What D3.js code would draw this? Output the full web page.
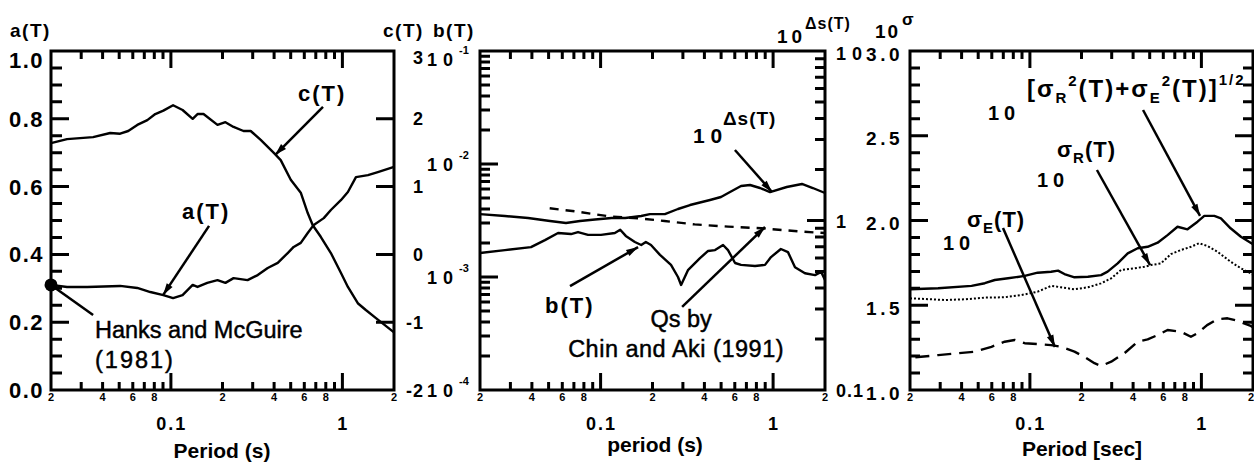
<!DOCTYPE html>
<html>
<head>
<meta charset="utf-8">
<script src="https://cdn.jsdelivr.net/npm/d3@7"></script>
<style>
  body { margin: 0; background: #fff; }
  svg text { font-family: "Liberation Sans", Arial, Helvetica, sans-serif; fill: #000; }
</style>
</head>
<body>
<svg id="chart" width="1254" height="466"></svg>
<script>
// ---------- data ----------
// panel 1 : a(T) left axis, c(T) right axis
var periodA = [0.02, 0.0248, 0.0325, 0.0506, 0.0637, 0.0759, 0.0904, 0.103, 0.117, 0.134, 0.143, 0.163, 0.187, 0.208, 0.232, 0.280, 0.321, 0.367, 0.420, 0.480, 0.520, 0.572, 0.628, 0.681, 0.779, 0.857, 0.980, 1.077, 1.20, 1.41, 1.61, 2.0];
var aT = [0.310, 0.304, 0.304, 0.307, 0.301, 0.289, 0.280, 0.271, 0.280, 0.310, 0.304, 0.316, 0.324, 0.316, 0.330, 0.324, 0.339, 0.360, 0.375, 0.404, 0.422, 0.434, 0.463, 0.487, 0.507, 0.531, 0.560, 0.584, 0.628, 0.634, 0.643, 0.658];
var periodC = [0.02, 0.0248, 0.0352, 0.0443, 0.0506, 0.0564, 0.0637, 0.0729, 0.0811, 0.0904, 0.103, 0.117, 0.134, 0.143, 0.155, 0.187, 0.208, 0.232, 0.265, 0.292, 0.334, 0.397, 0.437, 0.50, 0.572, 0.628, 0.672, 0.748, 0.857, 0.980, 1.077, 1.23, 1.37, 1.57, 2.0];
var cT = [1.64, 1.70, 1.73, 1.79, 1.78, 1.82, 1.91, 1.98, 2.07, 2.12, 2.20, 2.13, 2.00, 2.07, 2.07, 1.91, 1.95, 1.88, 1.82, 1.82, 1.69, 1.50, 1.39, 1.10, 0.91, 0.61, 0.43, 0.26, 0.02, -0.27, -0.48, -0.72, -0.82, -0.94, -1.15];
var hanksPoint = [0.02, 0.31];

// panel 2 : b(T) and Qs on left log axis, 10^ds(T) on right log axis
var periodB = [0.02, 0.0279, 0.0395, 0.0476, 0.0567, 0.0674, 0.074, 0.0846, 0.1006, 0.121, 0.130, 0.140, 0.158, 0.172, 0.183, 0.196, 0.221, 0.256, 0.281, 0.293, 0.321, 0.377, 0.420, 0.461, 0.513, 0.548, 0.602, 0.652, 0.786, 0.898, 0.973, 1.11, 1.22, 1.34, 1.53, 1.75, 1.90, 2.0];
var bT = [1.63e-3, 1.73e-3, 1.84e-3, 2.12e-3, 2.45e-3, 2.40e-3, 2.50e-3, 2.36e-3, 2.36e-3, 2.45e-3, 2.62e-3, 2.31e-3, 2.04e-3, 1.92e-3, 2.04e-3, 1.92e-3, 1.57e-3, 1.28e-3, 1.0e-3, 8.5e-4, 1.15e-3, 1.47e-3, 1.70e-3, 1.73e-3, 1.92e-3, 1.73e-3, 1.33e-3, 1.28e-3, 1.25e-3, 1.28e-3, 1.50e-3, 1.77e-3, 1.66e-3, 1.22e-3, 1.08e-3, 1.04e-3, 1.11e-3, 9.4e-4];
var periodS = [0.02, 0.0279, 0.038, 0.0509, 0.063, 0.076, 0.0928, 0.116, 0.139, 0.172, 0.193, 0.236, 0.281, 0.330, 0.367, 0.431, 0.499, 0.563, 0.652, 0.735, 0.840, 0.960, 1.20, 1.47, 1.70, 2.0];
var dsT = [1.09, 1.063, 1.035, 0.993, 0.967, 0.993, 1.014, 1.035, 1.035, 1.063, 1.09, 1.09, 1.169, 1.234, 1.268, 1.321, 1.376, 1.472, 1.598, 1.620, 1.555, 1.472, 1.576, 1.642, 1.555, 1.453];
var periodQ = [0.0507, 0.074, 0.115, 0.165, 0.235, 0.351, 0.548, 0.855, 1.33, 1.82, 2.0];
var qsT = [4.06e-3, 3.78e-3, 3.42e-3, 3.31e-3, 3.13e-3, 2.92e-3, 2.79e-3, 2.70e-3, 2.55e-3, 2.47e-3, 2.45e-3];

// panel 3 : sigma (linear 1..3)
var periodTot = [0.02, 0.0292, 0.0457, 0.0546, 0.0624, 0.0746, 0.0933, 0.111, 0.133, 0.146, 0.159, 0.182, 0.218, 0.260, 0.284, 0.325, 0.372, 0.425, 0.486, 0.556, 0.635, 0.726, 0.830, 0.950, 1.04, 1.19, 1.30, 1.48, 1.70, 2.0];
var sigTot = [1.594, 1.600, 1.614, 1.630, 1.649, 1.659, 1.673, 1.692, 1.698, 1.704, 1.684, 1.665, 1.668, 1.678, 1.698, 1.747, 1.806, 1.836, 1.845, 1.869, 1.914, 1.963, 1.948, 1.993, 2.027, 2.027, 2.013, 1.954, 1.904, 1.860];
var periodR = [0.02, 0.0244, 0.032, 0.0418, 0.0546, 0.0713, 0.0892, 0.111, 0.133, 0.152, 0.182, 0.218, 0.260, 0.298, 0.340, 0.407, 0.465, 0.509, 0.581, 0.665, 0.760, 0.869, 0.971, 1.08, 1.24, 1.48, 1.70, 1.94, 2.0];
var sigR = [1.541, 1.537, 1.531, 1.535, 1.545, 1.547, 1.560, 1.580, 1.614, 1.606, 1.594, 1.606, 1.629, 1.659, 1.708, 1.718, 1.727, 1.737, 1.747, 1.802, 1.826, 1.845, 1.866, 1.850, 1.816, 1.757, 1.718, 1.688, 1.680];
var periodE = [0.0215, 0.0292, 0.0382, 0.0477, 0.0597, 0.0713, 0.0815, 0.0933, 0.111, 0.133, 0.152, 0.182, 0.208, 0.238, 0.260, 0.298, 0.356, 0.425, 0.486, 0.556, 0.635, 0.760, 0.869, 0.950, 1.08, 1.24, 1.42, 1.62, 1.94, 2.0];
var sigE = [1.193, 1.206, 1.217, 1.226, 1.255, 1.285, 1.295, 1.276, 1.271, 1.265, 1.255, 1.226, 1.196, 1.158, 1.142, 1.167, 1.217, 1.285, 1.299, 1.324, 1.354, 1.344, 1.314, 1.335, 1.383, 1.417, 1.423, 1.409, 1.378, 1.37];

// tick values
var xMinor = [0.03, 0.04, 0.05, 0.06, 0.07, 0.08, 0.09, 0.2, 0.3, 0.4, 0.5, 0.6, 0.7, 0.8, 0.9];
var xMajor = [0.1, 1];
var xSmallLabels = [0.02, 0.04, 0.06, 0.08, 0.2, 0.4, 0.6, 0.8, 2];
var aTicks = [0, 0.2, 0.4, 0.6, 0.8, 1.0];
var cTicks = [-2, -1, 0, 1, 2, 3];
var bDecades = [1e-4, 1e-3, 1e-2, 1e-1];
var sigTicks = [1.0, 1.5, 2.0, 2.5, 3.0];
var tenSigLabels = ["0.1", "1", "10"];

// ---------- setup ----------
var svg = d3.select("#chart");

var x1 = d3.scaleLog().domain([0.02, 2]).range([51, 394]);
var yA = d3.scaleLinear().domain([0, 1]).range([390, 51]);
var yC = d3.scaleLinear().domain([-2, 3]).range([390, 51]);

var x2 = d3.scaleLog().domain([0.02, 2]).range([480, 825]);
var yB = d3.scaleLog().domain([1e-4, 1e-1]).range([390, 51]);
var yS = d3.scaleLog().domain([0.1, 10]).range([390, 51]);

var x3 = d3.scaleLog().domain([0.02, 2]).range([910, 1253]);
var yG = d3.scaleLinear().domain([1, 3]).range([390, 51]);

function txt(x, y, s, size, opt) {
  opt = opt || {};
  var t = svg.append("text").attr("x", x).attr("y", y)
    .attr("font-size", size)
    .attr("font-weight", opt.weight || "bold")
    .attr("text-anchor", opt.anchor || "start")
    .attr("letter-spacing", opt.ls || 0)
    .text(s);
  if (opt.weight === "normal") t.attr("stroke", "#000").attr("stroke-width", 0.45);
  return t;
}

// each panel box is one path: the frame plus all its inward ticks
function boxPath(x, y) {
  var p = d3.path(), r = x.range(), h = y.range();
  p.rect(r[0], h[1], r[1] - r[0], h[0] - h[1]);
  return p;
}
function ticksX(p, x, vals, len, y0, dir) {
  vals.forEach(function(d) {
    var v = Math.round(x(d) * 10) / 10;
    p.moveTo(v, y0); p.lineTo(v, y0 + dir * len);
  });
}
function ticksY(p, y, vals, len, x0, dir) {
  vals.forEach(function(d) {
    var v = Math.round(y(d) * 10) / 10;
    p.moveTo(x0, v); p.lineTo(x0 + dir * len, v);
  });
}
function drawBox(p) {
  svg.append("path").attr("d", p.toString())
    .attr("fill", "none").attr("stroke", "#000").attr("stroke-width", 3);
}

function curve(x, y, xs, ys, dash, w) {
  var pts = xs.map(function(d, i) { return [d, ys[i]]; });
  svg.append("path").datum(pts)
    .attr("d", d3.line().x(function(d) { return x(d[0]); }).y(function(d) { return y(d[1]); }))
    .attr("fill", "none").attr("stroke", "#000")
    .attr("stroke-width", w || 2.4)
    .attr("stroke-dasharray", dash || null)
    .attr("stroke-linejoin", "round");
}

// arrow = shaft + small filled head, both in data coordinates
function arrow(x, y, from, to, head) {
  var x0 = x(from[0]), y0 = y(from[1]), xe = x(to[0]), ye = y(to[1]);
  svg.append("line").attr("x1", x0).attr("y1", y0).attr("x2", xe).attr("y2", ye)
    .attr("stroke", "#000").attr("stroke-width", 2.5);
  if (head === false) return;
  var ang = Math.atan2(ye - y0, xe - x0), L = 12, Wd = 3.5;
  var bx = xe - L * Math.cos(ang), by = ye - L * Math.sin(ang);
  svg.append("path")
    .attr("d", "M" + xe + "," + ye +
      "L" + (bx - Wd * Math.sin(ang)) + "," + (by + Wd * Math.cos(ang)) +
      "L" + (bx + Wd * Math.sin(ang)) + "," + (by - Wd * Math.cos(ang)) + "Z")
    .attr("fill", "#000");
}

function xAxes(p, x) {
  ticksX(p, x, xMinor, 8, 390, -1);
  ticksX(p, x, xMajor, 17, 390, -1);
  ticksX(p, x, xMinor, 8, 51, 1);
  ticksX(p, x, xMajor, 17, 51, 1);
  xSmallLabels.forEach(function(d) {
    var lead = Math.round(d / Math.pow(10, Math.floor(Math.log10(d) + 1e-9)));
    var px = x(d), edge = px > 1245;
    txt(edge ? 1254 : px, 401, String(lead), 11, { anchor: edge ? "end" : "middle" });
  });
  xMajor.forEach(function(d) {
    txt(x(d) + 1, 430, d < 1 ? "0.1" : "1", 18, { anchor: "middle", ls: 2 });
  });
}

// ---------- panel 1 ----------
var box1 = boxPath(x1, yA);
xAxes(box1, x1);
ticksY(box1, yA, d3.range(1, 20).filter(function(i) { return i % 4; }).map(function(i) { return i * 0.05; }), 11, 51, 1);
ticksY(box1, yA, aTicks, 18, 51, 1);
ticksY(box1, yC, cTicks, 18, 394, -1);
drawBox(box1);
aTicks.forEach(function(d) {
  txt(44, Math.max(yA(d), 60) + 8, d3.format(".1f")(d), 22, { anchor: "end", ls: 1.5 });
});
cTicks.forEach(function(d) {
  txt(424, Math.max(yC(d), 57) + 6.5, d < 0 ? "-" + (-d) : String(d), 18, { anchor: "end", ls: 1 });
});
txt(10, 37, "a(T)", 19, { ls: 1.5 });
txt(383, 37, "c(T)", 19, { ls: 1.5 });
txt(222, 458, "Period (s)", 21, { anchor: "middle" });

curve(x1, yC, periodC, cT);
curve(x1, yA, periodA, aT);
svg.append("circle").attr("cx", x1(hanksPoint[0])).attr("cy", yA(hanksPoint[1])).attr("r", 6.5).attr("fill", "#000");
arrow(x1, yA, hanksPoint, [0.0352, 0.221], false);
arrow(x1, yA, [0.771, 0.835], [0.405, 0.693]);
arrow(x1, yA, [0.167, 0.484], [0.090, 0.280]);
txt(x1(0.551), yA(0.853), "c(T)", 22, { ls: 2 });
txt(x1(0.116), yA(0.504), "a(T)", 22, { ls: 2 });
txt(x1(0.0361), yA(0.153), "Hanks and McGuire", 23.5, { weight: "normal" });
txt(x1(0.0361), yA(0.065), "(1981)", 23.5, { weight: "normal", ls: 2 });

// ---------- panel 2 ----------
var box2 = boxPath(x2, yB);
xAxes(box2, x2);
var bMinor = [];
[1e-4, 1e-3, 1e-2].forEach(function(p) { d3.range(2, 10).forEach(function(k) { bMinor.push(k * p); }); });
ticksY(box2, yB, bMinor, 10, 480, 1);
ticksY(box2, yB, bDecades, 18, 480, 1);
var sMinor = [];
[0.1, 1].forEach(function(p) { d3.range(2, 10).forEach(function(k) { sMinor.push(k * p); }); });
ticksY(box2, yS, sMinor, 10, 825, -1);
ticksY(box2, yS, [1], 18, 825, -1);
drawBox(box2);
bDecades.forEach(function(d) {
  var cy = Math.max(yB(d), 59);
  txt(427, cy + 7, "10", 18, { ls: 6 });
  txt(459, cy - 5, String(Math.round(Math.log10(d))), 11);
});
tenSigLabels.forEach(function(s) {
  txt(836, Math.max(yS(+s), 53) + 7, s, 18, { ls: s === "10" ? 6 : (s === "1" ? 3 : 1) });
});
txt(433, 37, "b(T)", 19, { ls: 1.5 });
txt(777, 43, "10", 19, { ls: 4 });
txt(805, 29, "\u0394s(T)", 16, { ls: 1 });
txt(655, 452, "period (s)", 21, { anchor: "middle" });

curve(x2, yS, periodS, dsT);
curve(x2, yB, periodB, bT);
curve(x2, yB, periodQ, qsT, "9,7");
arrow(x2, yB, [0.601, 1.33e-2], [0.986, 5.65e-3]);
arrow(x2, yB, [0.0665, 8.31e-4], [0.165, 1.84e-3]);
arrow(x2, yB, [0.297, 5.43e-4], [0.898, 2.77e-3]);
txt(x2(0.343), yB(1.53e-2), "10", 21, { ls: 6 });
txt(x2(0.512), yB(2.21e-2), "\u0394s(T)", 19, { ls: 1 });
txt(x2(0.0476), yB(4.80e-4), "b(T)", 22, { ls: 2 });
txt(x2(0.293), yB(3.61e-4), "Qs by", 23.5, { weight: "normal", anchor: "middle" });
txt(x2(0.274), yB(1.96e-4), "Chin and Aki (1991)", 23.5, { weight: "normal", anchor: "middle", ls: 0.5 });

// ---------- panel 3 ----------
var box3 = boxPath(x3, yG);
xAxes(box3, x3);
var gMinor = d3.range(11, 30).filter(function(i) { return i % 5; }).map(function(i) { return i / 10; });
ticksY(box3, yG, gMinor, 10, 910, 1);
ticksY(box3, yG, sigTicks, 18, 910, 1);
ticksY(box3, yG, gMinor, 10, 1253, -1);
ticksY(box3, yG, sigTicks, 18, 1253, -1);
drawBox(box3);
sigTicks.forEach(function(d) {
  txt(903, yG(d) + 9.5, d3.format(".1f")(d), 19, { anchor: "end", ls: 3.5 });
});
txt(875, 38, "10", 19, { ls: 2 });
txt(902, 25, "\u03c3", 17);
txt(1082, 456, "Period [sec]", 21, { anchor: "middle" });

curve(x3, yG, periodE, sigE, "14,8");
curve(x3, yG, periodR, sigR, "2,2", 2);
curve(x3, yG, periodTot, sigTot);
arrow(x3, yG, [0.457, 2.652], [0.982, 2.027]);
arrow(x3, yG, [0.246, 2.298], [0.502, 1.737]);
arrow(x3, yG, [0.0697, 1.956], [0.140, 1.254]);

// 10^[sR^2(T)+sE^2(T)]^(1/2)
txt(x3(0.057), yG(2.593), "10", 20, { ls: 5 });
var br = txt(x3(0.0962), yG(2.729), "", 24, { ls: 2 });
br.append("tspan").text("[\u03c3");
br.append("tspan").attr("font-size", 15).attr("dy", 6).text("R");
br.append("tspan").attr("font-size", 15).attr("dy", -17).text("2");
br.append("tspan").attr("dy", 11).text("(T)+\u03c3");
br.append("tspan").attr("font-size", 15).attr("dy", 6).text("E");
br.append("tspan").attr("font-size", 15).attr("dy", -17).text("2");
br.append("tspan").attr("dy", 11).text("(T)]");
br.append("tspan").attr("font-size", 15).attr("dy", -12).text("1/2");

// 10^sR(T)
txt(x3(0.110), yG(2.198), "10", 20, { ls: 5 });
var sr = txt(x3(0.144), yG(2.375), "\u03c3", 22, { ls: 1 });
sr.append("tspan").attr("font-size", 15).attr("dy", 6).text("R");
sr.append("tspan").attr("dy", -6).text("(T)");

// 10^sE(T)
txt(x3(0.0311), yG(1.826), "10", 20, { ls: 5 });
var se = txt(x3(0.043), yG(1.962), "\u03c3", 22, { ls: 1 });
se.append("tspan").attr("font-size", 15).attr("dy", 6).text("E");
se.append("tspan").attr("dy", -6).text("(T)");
</script>
</body>
</html>
